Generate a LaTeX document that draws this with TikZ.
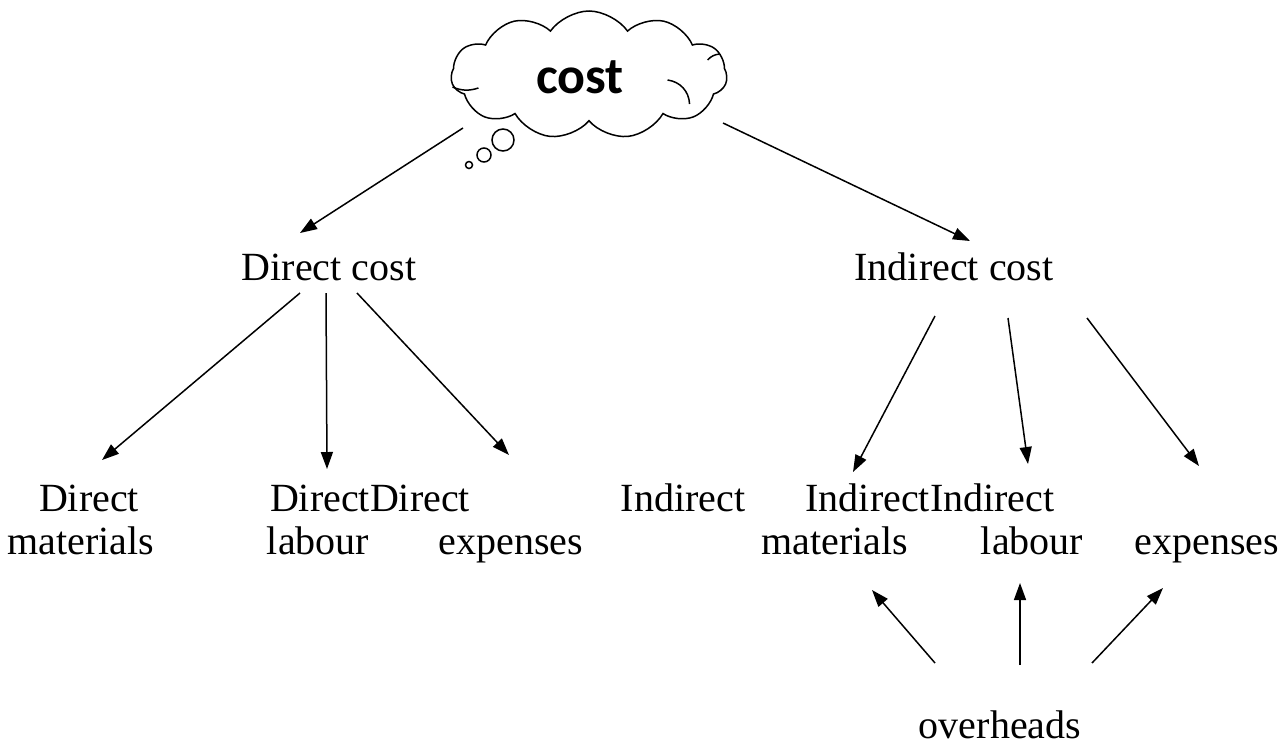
\documentclass[tikz,border=0pt]{standalone}
\usepackage{fontspec}
\setmainfont{Liberation Serif}
\newfontfamily\cloudfont{Carlito}
\usetikzlibrary{arrows.meta,shapes.symbols}
\begin{document}
\begin{tikzpicture}[x=1pt,y=-1pt,
  lbl/.style={anchor=base,inner sep=0pt,font=\fontsize{40}{46}\selectfont},
  arr/.style={line width=1.5pt,-{Triangle[length=17pt,width=12pt]}},
  bub/.style={draw,line width=1.5pt,fill=white},
  inarc/.style={line width=1.5pt}]
\useasboundingbox (0,0) rectangle (1287,745);
% cloud
\node[cloud,draw,line width=1.5pt,cloud puffs=11,cloud puff arc=110,aspect=2.2,
  minimum width=276pt,minimum height=128pt,inner sep=0pt] (cloud) at (589,75) {};
\draw[inarc] (cloud.west) ++(2,12) to[bend right=20] ++(26,1);
\draw[inarc] (cloud.east) ++(-60,5) to[bend left=40] ++(22,24);
\draw[inarc] (cloud.east) ++(-20,-15) to[bend left=20] ++(12,-6);
\node[inner sep=0pt,font=\cloudfont\bfseries\fontsize{52}{62}\selectfont] (costt) at (580,77) {cost};
\node[bub,circle,minimum size=22pt,inner sep=0pt] (b1) at (503,140) {};
\node[bub,circle,minimum size=14pt,inner sep=0pt] (b2) at (484,155) {};
\node[bub,circle,minimum size=7pt,inner sep=0pt] (b3) at (469,165) {};
% labels
\node[lbl] (dc) at (329,280) {Direct cost};
\node[lbl] (ic) at (954,280) {Indirect cost};
\node[lbl] (dm1) at (89,511) {Direct};
\node[lbl] (dm2) at (81,554) {materials};
\node[lbl] (dd) at (370,511) {DirectDirect};
\node[lbl] (dl) at (318,554) {labour};
\node[lbl] (de) at (511,554) {expenses};
\node[lbl] (ind) at (683,511) {Indirect};
\node[lbl] (ii) at (930,511) {IndirectIndirect};
\node[lbl] (im) at (835,554) {materials};
\node[lbl] (il) at (1032,554) {labour};
\node[lbl] (ie) at (1207,554) {expenses};
\node[lbl] (oh) at (1000,738) {overheads};
% connector ends
\coordinate (c1) at (463,128); \coordinate (t1) at (300,233);
\coordinate (c2) at (723,123); \coordinate (t2) at (970,241);
\coordinate (d1) at (300,293); \coordinate (t3) at (102,460);
\coordinate (d2) at (326,293); \coordinate (t4) at (327,469);
\coordinate (d3) at (357,293); \coordinate (t5) at (509,455);
\coordinate (i1) at (935,316); \coordinate (t6) at (853,472);
\coordinate (i2) at (1008,318); \coordinate (t7) at (1028,464);
\coordinate (i3) at (1087,318); \coordinate (t8) at (1199,466);
\coordinate (o1) at (935,663); \coordinate (t9) at (872,590);
\coordinate (o2) at (1020,665); \coordinate (t10) at (1020,583);
\coordinate (o3) at (1092,663); \coordinate (t11) at (1163,588);
\draw[arr] (c1) -- (t1);
\draw[arr] (c2) -- (t2);
\draw[arr] (d1) -- (t3);
\draw[arr] (d2) -- (t4);
\draw[arr] (d3) -- (t5);
\draw[arr] (i1) -- (t6);
\draw[arr] (i2) -- (t7);
\draw[arr] (i3) -- (t8);
\draw[arr] (o1) -- (t9);
\draw[arr] (o2) -- (t10);
\draw[arr] (o3) -- (t11);
\end{tikzpicture}
\end{document}
